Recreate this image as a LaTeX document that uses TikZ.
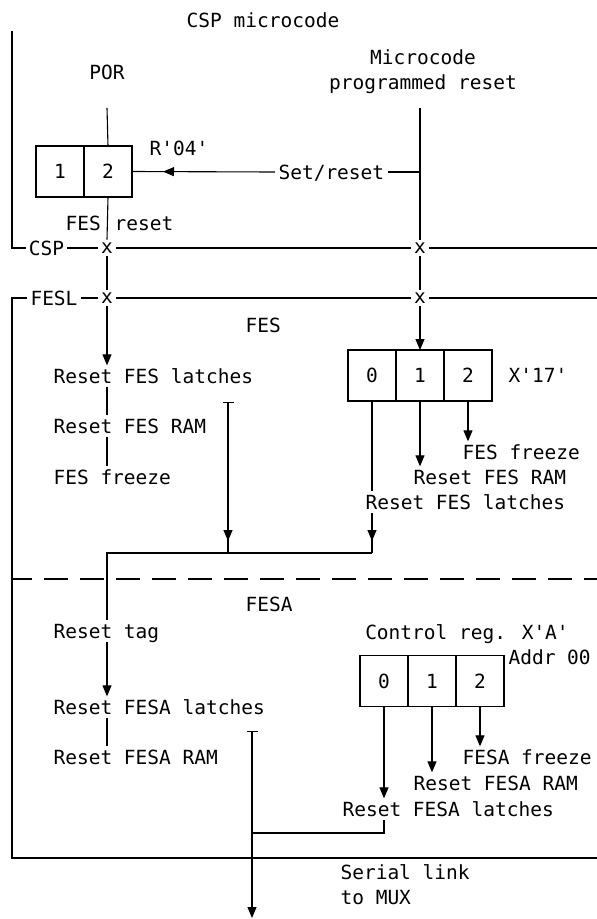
\documentclass[tikz,border=0pt]{standalone}
\usepackage{fontspec}
\setmainfont{DejaVu Sans Mono}
\usepackage{tikz}
\usetikzlibrary{arrows.meta,positioning,decorations.markings}
\newcommand{\q}{\textquotesingle}

\begin{document}
\begin{tikzpicture}[
  x=1pt, y=-1pt,
  font=\fontsize{19.5}{25}\selectfont,
  line width=1.1pt,
  lbl/.style={inner sep=3pt, text height=14.2pt, text depth=0pt},
  xmark/.style={inner sep=2.5pt},
  cell/.style={draw, minimum width=48pt, minimum height=51pt, inner sep=0pt, outer sep=0pt},
  arrow/.style={-{Triangle[length=11pt, width=9pt]}},
  tbar/.style={{Bar[width=11pt]}-},
  tbarrow/.style={{Bar[width=11pt]}-{Triangle[length=11pt, width=9pt]}},
  tipat/.style={postaction={decorate}, decoration={markings, mark=at position -#1 with {\arrow{Triangle[length=11pt, width=9pt]}}}}
]
\useasboundingbox (0,0) rectangle (597,919);
\node[lbl] (title) at (263,20) {CSP microcode};
\node[lbl] (por) at (107,72) {POR};
\node[lbl, align=center] (mcode) at (423,82.5) {Microcode\\programmed reset};
\coordinate (porIn) at (107,108);
\coordinate (mcIn) at (420,108);
\node[cell] (p1) at (60,171.5) {1};
\node[cell, right=0pt of p1] (p2) {2};
\node[lbl, anchor=west] (r04) at (146,148) {R\q04\q};
\node[lbl, anchor=west] (setrst) at (275,172) {Set/reset};
\node[lbl, anchor=east] (fesL) at (104.5,223) {FES};
\node[lbl, anchor=west] (rstL) at (111,223) {reset};
\node[xmark] (csp) at (46.5,248) {CSP};
\node[xmark] (fesl) at (54,298) {FESL};
\node[xmark] (xa) at (107,248) {x};
\node[xmark] (xb) at (420,248) {x};
\node[xmark] (xc) at (107,298) {x};
\node[xmark] (xd) at (420,298) {x};
% FES
\node[lbl, anchor=west] (fes) at (242,325) {FES};
\node[lbl, anchor=west] (lLat) at (50,376) {Reset FES latches};
\node[lbl, anchor=west] (lRam) at (50,426) {Reset FES RAM};
\node[lbl, anchor=west] (lFrz) at (50,477) {FES freeze};
\node[cell] (s0) at (372,375.5) {0};
\node[cell, right=0pt of s0] (s1) {1};
\node[cell, right=0pt of s1] (s2) {2};
\node[lbl, anchor=west] (x17) at (505,375) {X\q17\q};
\node[lbl, anchor=west] (rFrz) at (459,452) {FES freeze};
\node[lbl, anchor=west] (rRam) at (410,477) {Reset FES RAM};
\node[lbl, anchor=west] (rLat) at (362,502) {Reset FES latches};
\coordinate (tb1) at (228,402);
\coordinate (jR) at (372,553);
\coordinate (jL) at (107,553);
% FESA
\node[lbl, anchor=west] (fesa) at (242,604) {FESA};
\node[lbl, anchor=west] (tag) at (50,631) {Reset tag};
\node[lbl, anchor=west] (aLat) at (50,707) {Reset FESA latches};
\node[lbl, anchor=west] (aRam) at (50,757) {Reset FESA RAM};
\node[lbl] (ctl) at (467,632) {Control reg. X\q A\q};
\node[lbl, anchor=west] (addr) at (505,657) {Addr 00};
\node[cell] (a0) at (384,681) {0};
\node[cell, right=0pt of a0] (a1) {1};
\node[cell, right=0pt of a1] (a2) {2};
\node[lbl, anchor=west] (bFrz) at (459,757) {FESA freeze};
\node[lbl, anchor=west] (bRam) at (410,783) {Reset FESA RAM};
\node[lbl, anchor=west] (bLat) at (339,809) {Reset FESA latches};
\coordinate (tb2) at (252,731);
\coordinate (jB) at (384,833);
\coordinate (mux) at (252,918);
\node[lbl, anchor=west, align=left] (serial) at (337,897.5) {Serial link\\to MUX};
% frames
\draw (12,31) |- (csp.west);
\draw (csp.east) -- (xa.west) (xa.east) -- (xb.west) (xb.east) -- (597,248);
\draw (fesl.west) -| (12,858) -- (597,858);
\draw (fesl.east) -- (xc.west) (xc.east) -- (xd.west) (xd.east) -- (597,298);
\draw[dash pattern=on 24pt off 12pt, dash phase=4pt] (12,579) -- (597,579);
% CSP
\draw (porIn) -- (p2.north);
\draw (p2.south) -- (xa.north);
\draw (xa.south) -- (xc.north);
\draw (mcIn) -- (xb.north);
\draw[tipat=31pt] (setrst.west) -- (p2.east);
\draw (setrst.east) -- (setrst.east -| xb);
\draw (xb.south) -- (xd.north);
% FES
\draw[arrow] (xc.south) -- (lLat.north -| xc);
\draw (lLat.south -| xc) -- (lRam.north -| xc);
\draw (lRam.south -| xc) -- (lFrz.north -| xc);
\draw[arrow] (xd.south) -- (s1.north);
\draw[arrow] (s2.south) -- (rFrz.north -| s2);
\draw[arrow] (s1.south) -- (rRam.north -| s1);
\draw (s0.south) -- (rLat.north -| s0);
\draw[tipat=12pt] (rLat.south -| s0) -- (jR);
\draw[tbar, tipat=12pt] (tb1) -- (tb1 |- jR);
\draw (jR) -- (jL) -- (tag.north -| xc);
% FESA
\draw[arrow] (tag.south -| xc) -- (aLat.north -| xc);
\draw (aLat.south -| xc) -- (aRam.north -| xc);
\draw[arrow] (a2.south) -- (bFrz.north -| a2);
\draw[arrow] (a1.south) -- (bRam.north -| a1);
\draw[arrow] (a0.south) -- (bLat.north -| a0);
\draw (bLat.south -| a0) -- (jB) -- (jB -| tb2);
\draw[tbarrow] (tb2) -- (mux);
\end{tikzpicture}
\end{document}
